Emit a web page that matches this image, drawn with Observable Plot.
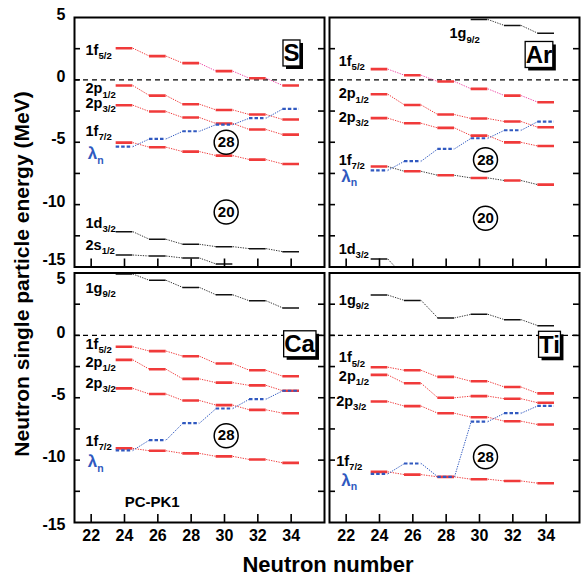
<!DOCTYPE html>
<html><head><meta charset="utf-8">
<script src="https://cdn.jsdelivr.net/npm/d3@7"></script>
<script src="https://cdn.jsdelivr.net/npm/@observablehq/plot@0.6"></script>
<style>
html,body{margin:0;padding:0;background:#fff;}
#wrap{position:relative;width:586px;height:581px;font-family:Arial,"Liberation Sans",sans-serif;}
#chart{position:absolute;left:0;top:0;}
#ytitle{position:absolute;left:22px;top:274px;transform:translate(-50%,-50%) rotate(-90deg);white-space:nowrap;font-weight:bold;font-size:21px;}
#xtitle{position:absolute;left:328px;top:565px;transform:translate(-50%,-50%);font-weight:bold;font-size:22px;white-space:nowrap;}
</style></head>
<body>
<div id="wrap"><div id="chart"></div><div id="ytitle">Neutron single particle energy (MeV)</div><div id="xtitle">Neutron number</div></div>
<script>
// ---------- data ----------
const neutronNumbers = [24, 26, 28, 30, 32, 34];
const xTickValues = [22, 24, 26, 28, 30, 32, 34];
const yTickValues = [5, 0, -5, -10, -15];
const yMinorTicks = [2.5, 0, -2.5, -5, -7.5, -10, -12.5];
const nucleusNames = ["S", "Ar", "Ca", "Ti"];

// S
const S_1f52 = [2.54, 1.90, 1.34, 0.70, 0.13, -0.45];
const S_2p12 = [-0.45, -1.26, -1.95, -2.41, -2.78, -3.18];
const S_2p32 = [-2.03, -2.54, -3.02, -3.50, -3.98, -4.39];
const S_1f72 = [-5.03, -5.40, -5.75, -6.07, -6.39, -6.74];
const S_lambda = [-5.35, -4.73, -4.12, -3.58, -3.07, -2.33];
const S_1d32 = [-12.17, -12.78, -13.18, -13.37, -13.53, -13.77];
const S_2s12 = [-14.04, -14.12, -14.28, -14.76, null, null];
// Ar
const Ar_1g92 = [null, null, null, 4.84, 4.36, 3.74];
const Ar_1f52 = [0.86, 0.37, -0.13, -0.72, -1.26, -1.79];
const Ar_2p12 = [-1.15, -2.01, -2.78, -3.10, -3.34, -3.80];
const Ar_2p32 = [-3.07, -3.48, -3.85, -4.47, -5.01, -5.30];
const Ar_1f72 = [-6.95, -7.33, -7.65, -7.86, -8.07, -8.40];
const Ar_lambda = [-7.25, -6.52, -5.53, -4.68, -4.04, -3.34];
const Ar_1d32 = [-14.36, -15.8, null, null, null, null];
// Ca
const Ca_1g92 = [4.92, 4.41, 3.84, 3.25, 2.77, 2.20];
const Ca_1f52 = [-0.91, -1.26, -1.67, -2.26, -2.80, -3.28];
const Ca_2p12 = [-1.96, -2.72, -3.49, -3.79, -4.01, -4.44];
const Ca_2p32 = [-4.25, -4.70, -5.22, -5.59, -5.97, -6.24];
const Ca_1f72 = [-9.06, -9.25, -9.46, -9.70, -9.95, -10.22];
const Ca_lambda = [-9.22, -8.39, -7.04, -5.86, -5.11, -4.44];
// Ti
const Ti_1g92 = [3.23, 2.80, 1.40, 1.69, 1.26, 0.78];
const Ti_1f52 = [-2.55, -2.80, -3.33, -3.68, -4.14, -4.65];
const Ti_2p12 = [-3.17, -3.84, -5.00, -4.87, -5.08, -5.40];
const Ti_2p32 = [-5.30, -5.67, -6.24, -6.56, -6.88, -7.15];
const Ti_1f72 = [-10.94, -11.16, -11.34, -11.53, -11.67, -11.85];
const Ti_lambda = [-11.10, -10.27, -11.34, -6.91, -6.24, -5.65];

// connector states: b = bound (red), c = continuum (pink), k = black
const S_1f52_links = ["b", "b", "c", "c", "c"];
const Ar_1f52_links = ["c", "c", "c", "c", "c"];
const Ar_1f72_links = ["k", "k", "k", "k", "k"];

// level labels
const S_labels = ["1f_5/2", "2p_1/2", "2p_3/2", "1f_7/2", "λ_n", "1d_3/2", "2s_1/2"];
const S_labelN = [21.66, 21.66, 21.66, 21.66, 21.8, 21.66, 21.66];
const S_labelE = [2.35, -0.72, -1.88, -4.12, -5.94, -11.5, -13.3];
const Ar_labels = ["1g_9/2", "1f_5/2", "2p_1/2", "2p_3/2", "1f_7/2", "λ_n", "1d_3/2"];
const Ar_labelN = [28.2, 21.55, 21.55, 21.55, 21.55, 21.7, 21.55];
const Ar_labelE = [3.69, 1.47, -1.12, -3.0, -6.42, -7.74, -13.56];
const Ca_labels = ["1g_9/2", "1f_5/2", "2p_1/2", "2p_3/2", "1f_7/2", "λ_n"];
const Ca_labelN = [21.66, 21.66, 21.66, 21.66, 21.66, 21.8];
const Ca_labelE = [3.76, -0.73, -2.2, -3.82, -8.52, -10.14];
const Ti_labels = ["1g_9/2", "1f_5/2", "2p_1/2", "2p_3/2", "1f_7/2", "λ_n"];
const Ti_labelN = [21.56, 21.56, 21.56, 21.4, 21.4, 21.7];
const Ti_labelE = [2.77, -1.8, -3.28, -5.3, -10.06, -11.6];

// shell gaps
const gapNucleus = ["S", "S", "Ar", "Ar", "Ca", "Ti"];
const gapNumber = ["28", "20", "28", "20", "28", "28"];
const gapN = [30.1, 30.1, 30.36, 30.36, 30.1, 30.36];
const gapE = [-5.0, -10.6, -6.4, -11.1, -8.04, -9.73];

// nucleus name boxes
const nameN = [34.02, 33.57, 34.5, 34.2];
const nameE = [2.09, 1.97, -0.74, -0.78];

const modelName = "PC-PK1";
const modelN = 25.66, modelE = -13.36;

// ---------- build tables ----------
const facetCol = {S: "L", Ar: "R", Ca: "L", Ti: "R"};
const facetRow = {S: "T", Ar: "T", Ca: "B", Ti: "B"};
const segs = [], links = [];
function addLevel(nuc, energies, kind, states) {
  energies.forEach((E, i) => {
    if (E == null) return;
    segs.push({nuc, col: facetCol[nuc], row: facetRow[nuc], N: neutronNumbers[i], E, kind});
  });
  for (let i = 0; i < energies.length - 1; i++) {
    if (energies[i] == null || energies[i + 1] == null) continue;
    const st = states ? states[i] : (kind === "blue" ? "l" : kind === "black" ? "k" : "b");
    links.push({col: facetCol[nuc], row: facetRow[nuc], N1: neutronNumbers[i], E1: energies[i],
      N2: neutronNumbers[i + 1], E2: energies[i + 1], st});
  }
}
addLevel("S", S_1f52, "red", S_1f52_links);
addLevel("S", S_2p12, "red");
addLevel("S", S_2p32, "red");
addLevel("S", S_1f72, "red");
addLevel("S", S_lambda, "blue");
addLevel("S", S_1d32, "black");
addLevel("S", S_2s12, "black");
addLevel("Ar", Ar_1g92, "black");
addLevel("Ar", Ar_1f52, "red", Ar_1f52_links);
addLevel("Ar", Ar_2p12, "red");
addLevel("Ar", Ar_2p32, "red");
addLevel("Ar", Ar_1f72, "red", Ar_1f72_links);
addLevel("Ar", Ar_lambda, "blue");
addLevel("Ar", Ar_1d32, "black");
addLevel("Ca", Ca_1g92, "black");
addLevel("Ca", Ca_1f52, "red");
addLevel("Ca", Ca_2p12, "red");
addLevel("Ca", Ca_2p32, "red");
addLevel("Ca", Ca_1f72, "red");
addLevel("Ca", Ca_lambda, "blue");
addLevel("Ti", Ti_1g92, "black");
addLevel("Ti", Ti_1f52, "red");
addLevel("Ti", Ti_2p12, "red");
addLevel("Ti", Ti_2p32, "red");
addLevel("Ti", Ti_1f72, "red");
addLevel("Ti", Ti_lambda, "blue");

const labels = [];
[["S", S_labels, S_labelN, S_labelE], ["Ar", Ar_labels, Ar_labelN, Ar_labelE],
 ["Ca", Ca_labels, Ca_labelN, Ca_labelE], ["Ti", Ti_labels, Ti_labelN, Ti_labelE]].forEach(([nuc, t, n, e]) => {
  t.forEach((txt, i) => labels.push({col: facetCol[nuc], row: facetRow[nuc], txt, N: n[i], E: e[i], blue: txt.startsWith("λ")}));
});
const gaps = gapNucleus.map((nuc, i) => ({col: facetCol[nuc], row: facetRow[nuc], txt: gapNumber[i], N: gapN[i], E: gapE[i]}));
const names = nucleusNames.map((nuc, i) => ({col: facetCol[nuc], row: facetRow[nuc], txt: nuc, N: nameN[i], E: nameE[i]}));
const yLabs = ["T", "B"].flatMap(row => yTickValues.map(v => ({col: "L", row, v})));
const xLabs = ["L", "R"].flatMap(col => xTickValues.map(v => ({col, row: "B", v})));

const RED = "#f03a3a", PINK = "#f04aa8", BLUE = "#3059c0", INK = "#111";
const linkColor = {b: RED, c: PINK, k: "#333", l: BLUE};
const UX = 15 / 250, UY = 20 / 249.5;
const F = {fx: "col", fy: "row"};
const bold = {fontWeight: "bold", fill: "black"};
const yl = {...F, y: "v", text: d => String(d.v), frameAnchor: "left", textAnchor: "end", dx: -9, fontSize: 16, ...bold};

const plot = Plot.plot({
  width: 586, height: 550,
  marginLeft: 74, marginRight: 7, marginTop: 17, marginBottom: 28,
  style: {fontFamily: "Arial, 'Liberation Sans', sans-serif", background: "white", overflow: "visible"},
  x: {domain: [21, 36], axis: null},
  y: {domain: [-15, 5], axis: null},
  fx: {domain: ["L", "R"], axis: null, paddingInner: 0.0196, paddingOuter: 0, round: false},
  fy: {domain: ["T", "B"], axis: null, paddingInner: 0.0235, paddingOuter: 0, round: false},
  color: {type: "identity"},
  marks: [
    Plot.ruleY([0], {stroke: "black", strokeWidth: 1.1, strokeDasharray: "5,4"}),
    Plot.link(links, {...F, x1: d => d.N1 + 0.5, y1: "E1", x2: d => d.N2 - 0.5, y2: "E2",
      stroke: d => linkColor[d.st], strokeWidth: 1, strokeDasharray: "1.3,1.2", clip: true}),
    Plot.ruleY(segs.filter(d => d.kind === "red"), {...F, y: "E", x1: d => d.N - 0.5, x2: d => d.N + 0.5,
      stroke: RED, strokeWidth: 2.6, clip: true}),
    Plot.ruleY(segs.filter(d => d.kind === "black"), {...F, y: "E", x1: d => d.N - 0.5, x2: d => d.N + 0.5,
      stroke: INK, strokeWidth: 1.5, clip: true}),
    Plot.ruleY(segs.filter(d => d.kind === "blue"), {...F, y: "E", x1: d => d.N - 0.5, x2: d => d.N + 0.5,
      stroke: BLUE, strokeWidth: 2.2, strokeDasharray: "3.5,2", clip: true}),
    // ticks
    Plot.ruleY(yMinorTicks, {y: d => d, x1: 21, x2: 21 + 6 * UX, stroke: "black", strokeWidth: 1.6}),
    Plot.ruleY(yMinorTicks, {y: d => d, x1: 36 - 6 * UX, x2: 36, stroke: "black", strokeWidth: 1.6}),
    Plot.ruleX(xTickValues, {x: d => d, y1: -15, y2: -15 + 8 * UY, stroke: "black", strokeWidth: 1.6}),
    Plot.frame({stroke: "black", strokeWidth: 2}),
    // tick labels
    Plot.text(yLabs.filter(d => !((d.row === "T" && d.v === -15) || (d.row === "B" && (d.v === 5 || d.v === -15)))), {...yl, dy: -3}),
    Plot.text(yLabs.filter(d => d.row === "T" && d.v === -15), {...yl, dy: -7}),
    Plot.text(yLabs.filter(d => d.row === "B" && d.v === 5), {...yl, dy: 6}),
    Plot.text(yLabs.filter(d => d.row === "B" && d.v === -15), {...yl, dy: 2}),
    Plot.text(xLabs, {...F, x: "v", text: d => String(d.v), frameAnchor: "bottom", dy: 18, fontSize: 16, ...bold}),
    // level labels
    Plot.text(labels.filter(d => !d.blue), {...F, x: "N", y: "E", text: "txt", textAnchor: "start", fontSize: 14.5, fontWeight: "bold", fill: "black"}),
    Plot.text(labels.filter(d => d.blue), {...F, x: "N", y: "E", text: "txt", textAnchor: "start", fontSize: 17, fontWeight: "bold", fill: BLUE}),
    // shell gaps
    Plot.dot(gaps, {...F, x: "N", y: "E", r: 12, fill: "white", stroke: "black", strokeWidth: 1.5}),
    Plot.text(gaps, {...F, x: "N", y: "E", text: "txt", fontSize: 15, ...bold}),
    // nucleus names
    Plot.text(names, {...F, x: "N", y: "E", text: "txt", fontSize: 24, ...bold}),
    Plot.text([{col: "L", row: "B"}], {...F, x: () => modelN, y: () => modelE, text: () => modelName, fontSize: 15, ...bold})
  ]
});

document.getElementById("chart").append(plot);
const ns = "http://www.w3.org/2000/svg";
plot.querySelectorAll("text").forEach(t => {
  const s = t.textContent;
  if (t.childElementCount === 0 && s.includes("_")) {
    const [main, sub] = s.split("_");
    t.textContent = "";
    const a = document.createElementNS(ns, "tspan");
    a.textContent = main;
    const b = document.createElementNS(ns, "tspan");
    b.setAttribute("dy", "0.42em");
    b.setAttribute("font-size", sub === "n" ? "0.62em" : "0.66em");
    b.textContent = sub;
    t.append(a, b);
  }
});
plot.querySelectorAll("text").forEach(t => {
  if (t.childElementCount === 0 && nucleusNames.includes(t.textContent)) {
    const bb = t.getBBox();
    const tr = t.getAttribute("transform");
    const mk = (dx, dy, fill, stroke) => {
      const r = document.createElementNS(ns, "rect");
      r.setAttribute("x", bb.x - 0.5 + dx);
      r.setAttribute("y", bb.y + 0.5 + dy);
      r.setAttribute("width", bb.width + 1);
      r.setAttribute("height", bb.height - 1);
      r.setAttribute("fill", fill);
      if (stroke) { r.setAttribute("stroke", stroke); r.setAttribute("stroke-width", 1.3); }
      if (tr) r.setAttribute("transform", tr);
      return r;
    };
    t.parentNode.insertBefore(mk(3, 3, "black"), t);
    t.parentNode.insertBefore(mk(0, 0, "white", "black"), t);
  }
});
</script>
</body></html>
